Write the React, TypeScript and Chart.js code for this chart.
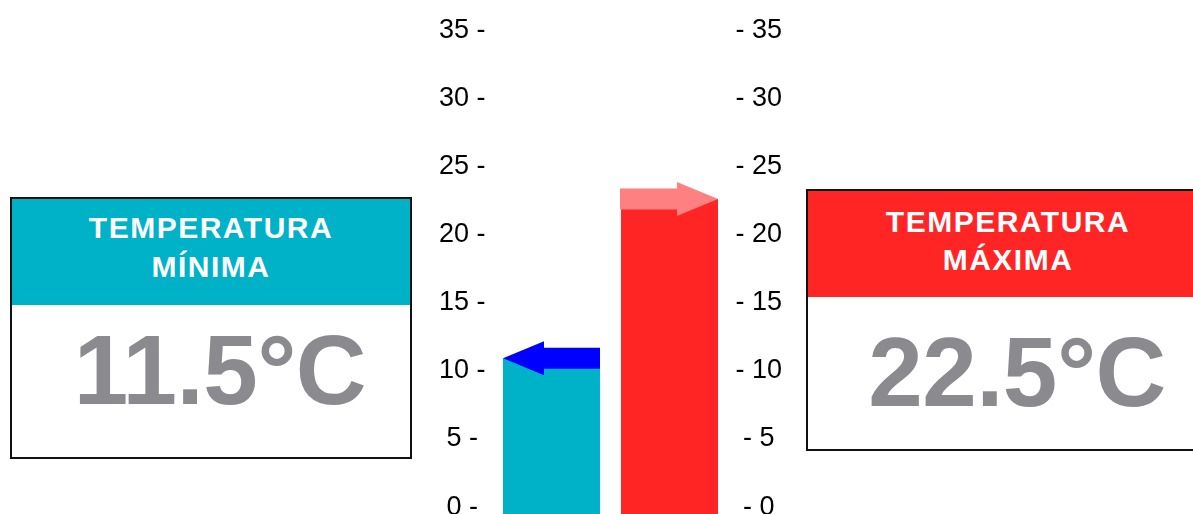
import React, { useEffect, useRef } from 'react';
import { Chart, registerables } from 'chart.js';

Chart.register(...registerables);

// ---- data ----
const categories = ['Mínima', 'Máxima'];
const barValues = [10.8, 22.5];
const tickValues = [0, 5, 10, 15, 20, 25, 30, 35];
const yMin = -0.66;
const yMax = 35;
const minTitle = ['TEMPERATURA', 'MÍNIMA'];
const maxTitle = ['TEMPERATURA', 'MÁXIMA'];
const minValueText = '11.5°C';
const maxValueText = '22.5°C';

// ---- styles ----
const CYAN = '#00B2C8';
const RED = '#FF2525';
const PINK = '#FF8080';
const BLUE = '#0000FF';
const GRAY = '#8A8A8F';
const FONT = "'Liberation Sans', Arial, Helvetica, sans-serif";

const arrowPlugin = {
  id: 'barArrows',
  afterDatasetsDraw(chart: any) {
    const meta = chart.getDatasetMeta(0);
    const ctx = chart.ctx;
    const bodyHalf = 10.5;
    const headHalf = 17;
    const headLen = 41;
    meta.data.forEach((bar: any, i: number) => {
      const left = bar.x - bar.width / 2;
      const right = bar.x + bar.width / 2;
      const y = bar.y;
      ctx.save();
      ctx.beginPath();
      if (i === 0) {
        ctx.fillStyle = BLUE;
        ctx.moveTo(left, y);
        ctx.lineTo(left + headLen, y - headHalf);
        ctx.lineTo(left + headLen, y - bodyHalf);
        ctx.lineTo(right, y - bodyHalf);
        ctx.lineTo(right, y + bodyHalf);
        ctx.lineTo(left + headLen, y + bodyHalf);
        ctx.lineTo(left + headLen, y + headHalf);
      } else {
        ctx.fillStyle = PINK;
        ctx.moveTo(right, y);
        ctx.lineTo(right - headLen, y - headHalf);
        ctx.lineTo(right - headLen, y - bodyHalf);
        ctx.lineTo(left - 1, y - bodyHalf);
        ctx.lineTo(left - 1, y + bodyHalf);
        ctx.lineTo(right - headLen, y + bodyHalf);
        ctx.lineTo(right - headLen, y + headHalf);
      }
      ctx.closePath();
      ctx.fill();
      ctx.restore();
    });
  },
};

function fixAxis(scale: any) {
  scale.width = 60;
  scale.paddingTop = 0;
  scale.paddingBottom = 0;
}

function setTicks(scale: any) {
  scale.ticks = tickValues.map((v) => ({ value: v }));
}

function InfoBox(props: {
  left: number;
  top: number;
  width: number;
  color: string;
  title: string[];
  titleY: number[];
  value: string;
  valueX: number;
  valueY: number;
}) {
  const { left, top, width, color, title, titleY, value, valueX, valueY } = props;
  return (
    <>
      <div
        style={{
          position: 'absolute',
          left,
          top,
          width,
          height: 262,
          border: '2px solid #111',
          boxSizing: 'border-box',
          background: '#fff',
        }}
      />
      <div
        style={{
          position: 'absolute',
          left: left + 2,
          top: top + 2,
          width: width - 4,
          height: 106,
          background: color,
        }}
      />
      {title.map((t, i) => (
        <div
          key={i}
          style={{
            position: 'absolute',
            left,
            width,
            top: top + titleY[i] - 20,
            height: 40,
            lineHeight: '40px',
            textAlign: 'center',
            color: '#fff',
            fontFamily: FONT,
            fontWeight: 700,
            fontSize: 30,
            letterSpacing: '1.5px',
            whiteSpace: 'nowrap',
          }}
        >
          {t}
        </div>
      ))}
      <div
        style={{
          position: 'absolute',
          left: valueX - 250,
          width: 500,
          top: valueY - 50,
          height: 100,
          lineHeight: '100px',
          textAlign: 'center',
          color: GRAY,
          fontFamily: FONT,
          fontWeight: 700,
          fontSize: 98,
          letterSpacing: '-0.5px',
          whiteSpace: 'nowrap',
        }}
      >
        {value}
      </div>
    </>
  );
}

export default function App() {
  const canvasRef = useRef<HTMLCanvasElement | null>(null);

  useEffect(() => {
    if (!canvasRef.current) return;
    // lineHeight is tiny on purpose: the empty first line nudges each label ~2px down
    const tickFont = { family: FONT, size: 27, lineHeight: 0.15 };
    const chart = new Chart(canvasRef.current, {
      type: 'bar',
      data: {
        labels: categories,
        datasets: [
          {
            data: barValues,
            backgroundColor: [CYAN, RED],
            borderWidth: 0,
            base: yMin,
            categoryPercentage: 1,
            barPercentage: 0.822,
          } as any,
        ],
      },
      options: {
        animation: false,
        responsive: false,
        maintainAspectRatio: false,
        devicePixelRatio: 1,
        layout: { padding: { left: 432.5, right: 404.5, top: 29, bottom: 0 } },
        plugins: {
          legend: { display: false },
          tooltip: { enabled: false },
        },
        scales: {
          x: { display: false },
          y: {
            position: 'left',
            min: yMin,
            max: yMax,
            afterBuildTicks: setTicks,
            afterFit: fixAxis,
            grid: { display: false, drawTicks: false },
            border: { display: false },
            ticks: {
              padding: 7,
              crossAlign: 'center',
              color: '#000',
              font: tickFont,
              callback: (v: any) => ['', `${v} -`],
            },
          },
          y2: {
            position: 'right',
            min: yMin,
            max: yMax,
            afterBuildTicks: setTicks,
            afterFit: fixAxis,
            grid: { display: false, drawTicks: false },
            border: { display: false },
            ticks: {
              padding: 7,
              crossAlign: 'center',
              color: '#000',
              font: tickFont,
              callback: (v: any) => ['', `- ${v}`],
            },
          },
        } as any,
      },
      plugins: [arrowPlugin],
    });
    return () => chart.destroy();
  }, []);

  return (
    <div
      style={{
        position: 'fixed',
        left: 0,
        top: 0,
        width: 1193,
        height: 514,
        overflow: 'hidden',
        background: '#fff',
      }}
    >
      <canvas
        ref={canvasRef}
        width={1193}
        height={514}
        style={{ position: 'absolute', left: 0, top: 0, width: 1193, height: 514 }}
      />
      <InfoBox
        left={10}
        top={197}
        width={402}
        color={CYAN}
        title={minTitle}
        titleY={[31, 70]}
        value={minValueText}
        valueX={220}
        valueY={370}
      />
      <InfoBox
        left={806}
        top={189}
        width={404}
        color={RED}
        title={maxTitle}
        titleY={[33, 71]}
        value={maxValueText}
        valueX={1017}
        valueY={372}
      />
    </div>
  );
}
